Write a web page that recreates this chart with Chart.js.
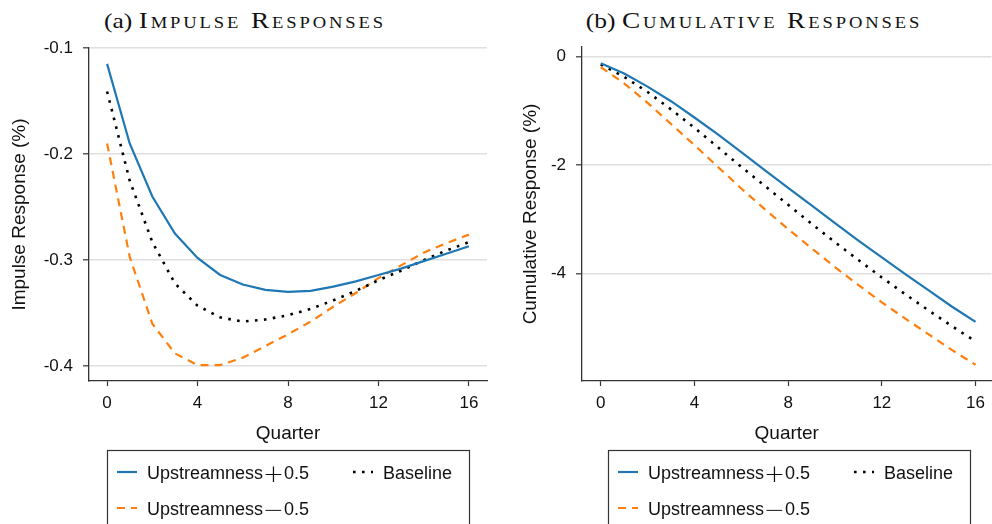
<!DOCTYPE html>
<html>
<head>
<meta charset="utf-8">
<script src="https://cdn.jsdelivr.net/npm/chart.js"></script>
<style>
  body { margin: 0; background: #fff; }
  #wrap { position: relative; width: 992px; height: 524px; overflow: hidden; }
  .panel { position: absolute; top: 0; width: 496px; height: 524px; }
  .title {
    position: absolute; top: 9px; line-height: 22px;
    font-family: "Liberation Serif", serif; font-size: 22px;
    white-space: nowrap; color: #111;
    transform: translateX(-50%) scaleX(1.16);
  }
  .title .sc { font-variant: small-caps; font-size: 23.5px; letter-spacing: 2.5px; }
</style>
</head>
<body>
<div id="wrap">
  <div class="title" style="left:245px">(a) <span class="sc">Impulse Responses</span></div>
  <div class="title" style="left:754px">(b) <span class="sc">Cumulative Responses</span></div>
  <div class="panel" style="left:0"><canvas id="impulseChart"></canvas></div>
  <div class="panel" style="left:496px"><canvas id="cumulativeChart"></canvas></div>
</div>
<script>
// quarters after the shock
var quarters = [0, 1, 2, 3, 4, 5, 6, 7, 8, 9, 10, 11, 12, 13, 14, 15, 16];
var quarterTicks = [0, 4, 8, 12, 16];

// impulse responses (%)
var impulseUp = [-0.115, -0.190, -0.240, -0.275, -0.298, -0.314, -0.323, -0.328, -0.330, -0.329, -0.325, -0.320, -0.314, -0.308, -0.301, -0.294, -0.287];
var impulseBase = [-0.141, -0.225, -0.283, -0.322, -0.343, -0.354, -0.358, -0.356, -0.352, -0.346, -0.338, -0.329, -0.319, -0.310, -0.300, -0.291, -0.283];
var impulseDown = [-0.190, -0.297, -0.360, -0.388, -0.399, -0.399, -0.392, -0.381, -0.370, -0.358, -0.344, -0.331, -0.317, -0.305, -0.293, -0.284, -0.276];
var impulseTicks = [-0.4, -0.3, -0.2, -0.1];

// cumulative responses (%)
var cumUp = [-0.12, -0.31, -0.55, -0.82, -1.12, -1.43, -1.76, -2.09, -2.42, -2.74, -3.07, -3.39, -3.70, -4.01, -4.31, -4.61, -4.89];
var cumBase = [-0.14, -0.37, -0.65, -0.97, -1.31, -1.67, -2.03, -2.38, -2.73, -3.08, -3.42, -3.75, -4.07, -4.38, -4.68, -4.97, -5.25];
var cumDown = [-0.19, -0.49, -0.85, -1.24, -1.63, -2.03, -2.43, -2.81, -3.18, -3.53, -3.88, -4.21, -4.53, -4.83, -5.12, -5.41, -5.68];
var cumTicks = [-4, -2, 0];

var seriesNames = ['Upstreamness+0.5', 'Baseline', 'Upstreamness\u22120.5'];

Chart.defaults.font.family = '"Liberation Sans", Arial, sans-serif';
Chart.defaults.color = '#111';

function points(values) {
    return quarters.map(function (q, i) { return { x: q, y: values[i] }; });
}

function makeDatasets(up, base, down) {
    return [
        { label: seriesNames[0], data: points(up), borderColor: '#1f77b4', borderWidth: 2.2, pointRadius: 0, tension: 0 },
        { label: seriesNames[1], data: points(base), borderColor: '#000', borderWidth: 2.6, borderDash: [2.6, 6.4], pointRadius: 0, tension: 0 },
        { label: seriesNames[2], data: points(down), borderColor: '#ff7f0e', borderWidth: 2.2, borderDash: [8, 6], pointRadius: 0, tension: 0 }
    ];
}

// writes a label, with the +/- sign set wider and lighter than the text
function drawLabel(ctx, text, x, baseline) {
    var parts = text.split(/([+\u2212])/);
    parts.forEach(function (p) {
        if (p === '+' || p === '\u2212') {
            ctx.font = '200 25px "DejaVu Sans", sans-serif';
            ctx.fillText(p, x, baseline + 2.5);
        } else {
            ctx.font = '18px "Liberation Sans", Arial, sans-serif';
            ctx.fillText(p, x, baseline);
        }
        x += ctx.measureText(p).width;
    });
}

// boxed legend under the x axis title, two columns
var boxLegend = {
    id: 'boxLegend',
    afterDraw: function (chart, args, opts) {
        var ctx = chart.ctx;
        var left = chart.chartArea.left + opts.offset;
        var top = 450;
        var slots = [[0, 0], [1, 0], [0, 1]];
        ctx.save();
        ctx.strokeStyle = '#333';
        ctx.lineWidth = 1.2;
        ctx.strokeRect(left + 0.5, top + 0.5, 362, 120);
        chart.data.datasets.forEach(function (ds, i) {
            var col = slots[i][0], row = slots[i][1];
            var x = left + 10 + col * 236;
            var y = top + 22 + row * 36;
            ctx.beginPath();
            ctx.setLineDash(ds.borderDash || []);
            ctx.strokeStyle = ds.borderColor;
            ctx.lineWidth = ds.borderWidth;
            ctx.moveTo(x, y);
            ctx.lineTo(x + 20, y);
            ctx.stroke();
            ctx.setLineDash([]);
            ctx.fillStyle = '#111';
            ctx.textBaseline = 'alphabetic';
            drawLabel(ctx, ds.label, x + 30, y + 7);
        });
        ctx.restore();
    }
};

function makeChart(id, datasets, y, xMax, pad, legendOffset) {
    var ctx = document.getElementById(id).getContext('2d');
    return new Chart(ctx, {
        type: 'line',
        data: { datasets: datasets },
        plugins: [boxLegend],
        options: {
            responsive: true,
            maintainAspectRatio: false,
            animation: false,
            layout: { padding: pad },
            plugins: {
                legend: { display: false },
                tooltip: { enabled: false },
                boxLegend: { offset: legendOffset }
            },
            scales: {
                x: {
                    type: 'linear', min: -0.8, max: xMax,
                    afterBuildTicks: function (s) { s.ticks = quarterTicks.map(function (v) { return { value: v }; }); },
                    afterFit: function (s) { s.height = 65; },
                    grid: { drawOnChartArea: false, tickLength: 5, tickColor: '#333', tickWidth: 1.2 },
                    border: { color: '#333', width: 1.3 },
                    ticks: { padding: 7, maxRotation: 0, autoSkip: false, font: { size: 17 } },
                    title: { display: true, text: 'Quarter', font: { size: 19 }, padding: { top: 0, bottom: 1 } }
                },
                y: {
                    min: y.min, max: y.max,
                    afterBuildTicks: function (s) { s.ticks = y.ticks.map(function (v) { return { value: v }; }); },
                    afterFit: function (s) { s.width = y.width; },
                    grid: { color: '#e0e0e0', lineWidth: 1.6, tickLength: 6, tickColor: '#333', tickWidth: 1.2 },
                    border: { color: '#333', width: 1.3 },
                    ticks: { padding: 10, font: { size: 17 }, callback: y.format },
                    title: { display: true, text: y.title, font: { size: 19 }, padding: { top: y.titlePad, bottom: 0 } }
                }
            }
        }
    });
}

makeChart('impulseChart', makeDatasets(impulseUp, impulseBase, impulseDown), {
    min: -0.414, max: -0.1, ticks: impulseTicks, width: 89, titlePad: 8,
    title: 'Impulse Response (%)',
    format: function (v) { return v.toFixed(1); }
}, 16.8, { top: 48, right: 9, bottom: 78, left: 0 }, 18);

makeChart('cumulativeChart', makeDatasets(cumUp, cumBase, cumDown), {
    min: -5.98, max: 0.18, ticks: cumTicks, width: 86, titlePad: 23,
    title: 'Cumulative Response (%)',
    format: function (v) { return String(v); }
}, 16.68, { top: 47, right: 0, bottom: 78, left: 0 }, 26);
</script>
</body>
</html>
